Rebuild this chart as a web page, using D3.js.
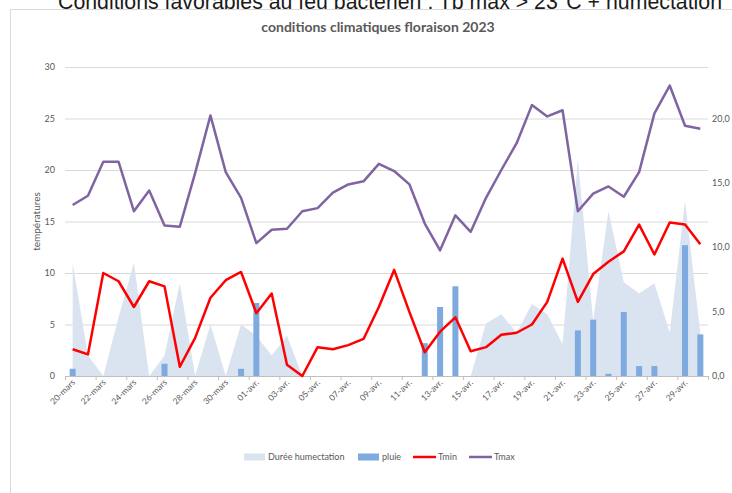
<!DOCTYPE html>
<html>
<head>
<meta charset="utf-8">
<script src="https://cdn.jsdelivr.net/npm/d3@7"></script>
<style>
  body { margin: 0; background: #fff; overflow: hidden; }
  svg { display: block; font-family: Lato, "Open Sans", sans-serif; }
</style>
</head>
<body>
<svg id="chart" width="732" height="493"></svg>
<script>
const dates = [
  "20-mars", "21-mars", "22-mars", "23-mars", "24-mars", "25-mars", "26-mars", "27-mars",
  "28-mars", "29-mars", "30-mars", "31-mars",
  "01-avr.", "02-avr.", "03-avr.", "04-avr.", "05-avr.", "06-avr.", "07-avr.", "08-avr.",
  "09-avr.", "10-avr.", "11-avr.", "12-avr.", "13-avr.", "14-avr.", "15-avr.", "16-avr.",
  "17-avr.", "18-avr.", "19-avr.", "20-avr.", "21-avr.", "22-avr.", "23-avr.", "24-avr.",
  "25-avr.", "26-avr.", "27-avr.", "28-avr.", "29-avr.", "30-avr."
];

// temperatures (left axis)
const tmax = [16.6, 17.5, 20.8, 20.8, 16.0, 18.0, 14.6, 14.5, 19.7, 25.3, 19.8, 17.3,
  12.9, 14.2, 14.3, 16.0, 16.3, 17.8, 18.6, 18.9, 20.6, 19.9, 18.6, 14.8, 12.2, 15.6,
  14.0, 17.3, 20.0, 22.6, 26.3, 25.2, 25.8, 16.0, 17.7, 18.4, 17.4, 19.8, 25.5, 28.2,
  24.3, 24.0];
const tmin = [2.6, 2.1, 10.0, 9.2, 6.7, 9.2, 8.7, 0.9, 3.7, 7.6, 9.3, 10.1,
  6.1, 8.0, 1.1, 0.0, 2.8, 2.6, 3.0, 3.6, 6.7, 10.3, 6.2, 2.3, 4.3, 5.7,
  2.4, 2.8, 4.0, 4.2, 5.0, 7.2, 11.4, 7.2, 9.9, 11.1, 12.1, 14.7, 11.8, 14.9,
  14.7, 12.8];
// hours of leaf wetness (left axis)
const humectation = [11, 2, 0, 5.7, 11, 0, 2, 9, 0, 5, 0, 5,
  3.9, 2, 3.9, 0, 0, 0, 0, 0, 0, 0, 0, 0, 0, 0,
  0, 5.1, 6, 4.2, 7, 6, 3.1, 21, 5.4, 16, 9.1, 8, 9, 4.2,
  17, 4.1];
// rain mm (right axis)
const pluie = [0.56, 0, 0, 0, 0, 0, 0.95, 0, 0, 0, 0, 0.56,
  5.67, 0, 0, 0, 0, 0, 0, 0, 0, 0, 0, 2.55, 5.36, 6.97,
  0, 0, 0, 0, 0, 0, 0, 3.54, 4.37, 0.17, 4.97, 0.77, 0.77, 0,
  10.16, 3.23];

const leftTicks = [0, 5, 10, 15, 20, 25, 30];
const rightTicks = [0, 5, 10, 15, 20];

const svg = d3.select("#chart");
const plotLeft = 65, plotRight = 708, plotTop = 67, plotBottom = 376;

// page title (cut off at the top, as in the screenshot) and chart frame
svg.append("text")
  .attr("x", 390).attr("y", 9)
  .attr("text-anchor", "middle")
  .attr("font-family", "'Liberation Sans', Arial, sans-serif")
  .attr("font-size", 21.3)
  .attr("fill", "#1a1a1a")
  .text("Conditions favorables au feu bactérien : Tp max > 23°C + humectation");

svg.append("rect")
  .attr("x", 10.5).attr("y", 9.5)
  .attr("width", 900).attr("height", 600)
  .attr("fill", "#fff")
  .attr("stroke", "#d9d9d9");

svg.append("text")
  .attr("x", 378).attr("y", 32)
  .attr("text-anchor", "middle")
  .attr("font-size", 14)
  .attr("font-weight", "bold")
  .attr("fill", "#595959")
  .text("conditions climatiques floraison 2023");

let x = d3.scaleBand().domain(dates).range([plotLeft, plotRight]);
let cx = d => x(d) + x.bandwidth() / 2;
let yL = d3.scaleLinear().domain([0, 30]).range([plotBottom, plotTop]);
let yR = d3.scaleLinear().domain([0, 24]).range([plotBottom, plotTop]);

// gridlines
svg.append("g")
  .selectAll("line")
  .data(leftTicks.filter(t => t > 0))
  .join("line")
  .attr("x1", plotLeft).attr("x2", plotRight)
  .attr("y1", d => yL(d) + 0.5).attr("y2", d => yL(d) + 0.5)
  .attr("stroke", "#d9d9d9");

// left axis labels
svg.append("g")
  .selectAll("text")
  .data(leftTicks)
  .join("text")
  .attr("x", 55).attr("y", d => yL(d) + 3)
  .attr("text-anchor", "end")
  .attr("font-size", 9)
  .attr("fill", "#595959")
  .text(d => d);

// right axis labels
svg.append("g")
  .selectAll("text")
  .data(rightTicks)
  .join("text")
  .attr("x", 712).attr("y", d => yR(d) + 3)
  .attr("font-size", 9)
  .attr("fill", "#595959")
  .text(d => d3.format(".1f")(d).replace(".", ","));

svg.append("text")
  .attr("transform", "translate(40," + (plotTop + plotBottom) / 2 + ") rotate(-90)")
  .attr("text-anchor", "middle")
  .attr("font-size", 10)
  .attr("fill", "#595959")
  .text("températures");

// humectation area
let area = d3.area()
  .x((d, i) => cx(dates[i]))
  .y0(yL(0))
  .y1(d => yL(d));

svg.append("path")
  .datum(humectation)
  .attr("fill", "#dae3f0")
  .attr("d", area);

// rain bars
let barW = 6;
svg.append("g")
  .selectAll("rect")
  .data(pluie)
  .join("rect")
  .attr("x", (d, i) => cx(dates[i]) - barW / 2)
  .attr("width", barW)
  .attr("y", d => yR(d))
  .attr("height", d => yR(0) - yR(d))
  .attr("fill", "#7faadf");

// x axis line and ticks
svg.append("line")
  .attr("x1", plotLeft).attr("x2", plotRight)
  .attr("y1", plotBottom + 0.5).attr("y2", plotBottom + 0.5)
  .attr("stroke", "#bfbfbf");

let tickIdx = d3.range(0, dates.length + 1, 2);
svg.append("g")
  .selectAll("line")
  .data(tickIdx)
  .join("line")
  .attr("x1", i => plotLeft + i * x.step() + 0.5)
  .attr("x2", i => plotLeft + i * x.step() + 0.5)
  .attr("y1", plotBottom).attr("y2", plotBottom + 4)
  .attr("stroke", "#bfbfbf");

svg.append("g")
  .selectAll("text")
  .data(dates.filter((d, i) => i % 2 === 0))
  .join("text")
  .attr("transform", d => "translate(" + (cx(d) + 3) + "," + (plotBottom + 7) + ") rotate(-45)")
  .attr("text-anchor", "end")
  .attr("font-size", 8.5)
  .attr("fill", "#595959")
  .text(d => d);

// temperature lines
let line = d3.line()
  .x((d, i) => cx(dates[i]))
  .y(d => yL(d));

svg.append("path")
  .datum(tmin)
  .attr("fill", "none")
  .attr("stroke", "#ff0000")
  .attr("stroke-width", 2.5)
  .attr("stroke-linejoin", "round")
  .attr("d", line);

svg.append("path")
  .datum(tmax)
  .attr("fill", "none")
  .attr("stroke", "#8064a2")
  .attr("stroke-width", 2.5)
  .attr("stroke-linejoin", "round")
  .attr("d", line);

// legend
let legend = [
  { name: "Durée humectation", type: "area", color: "#dae3f0", x: 244 },
  { name: "pluie", type: "bar", color: "#7faadf", x: 358 },
  { name: "Tmin", type: "line", color: "#ff0000", x: 413 },
  { name: "Tmax", type: "line", color: "#8064a2", x: 469 }
];
let lg = svg.append("g").selectAll("g").data(legend).join("g")
  .attr("transform", d => "translate(" + d.x + ",457)");
lg.filter(d => d.type !== "line").append("rect")
  .attr("x", 0).attr("y", -3.5).attr("width", 21).attr("height", 7)
  .attr("fill", d => d.color);
lg.filter(d => d.type === "line").append("line")
  .attr("x1", 0).attr("x2", 23).attr("y1", 0).attr("y2", 0)
  .attr("stroke", d => d.color).attr("stroke-width", 2.5);
lg.append("text")
  .attr("x", d => d.type === "line" ? 25 : 24).attr("y", 3)
  .attr("font-size", 9)
  .attr("fill", "#595959")
  .text(d => d.name);
</script>
</body>
</html>
